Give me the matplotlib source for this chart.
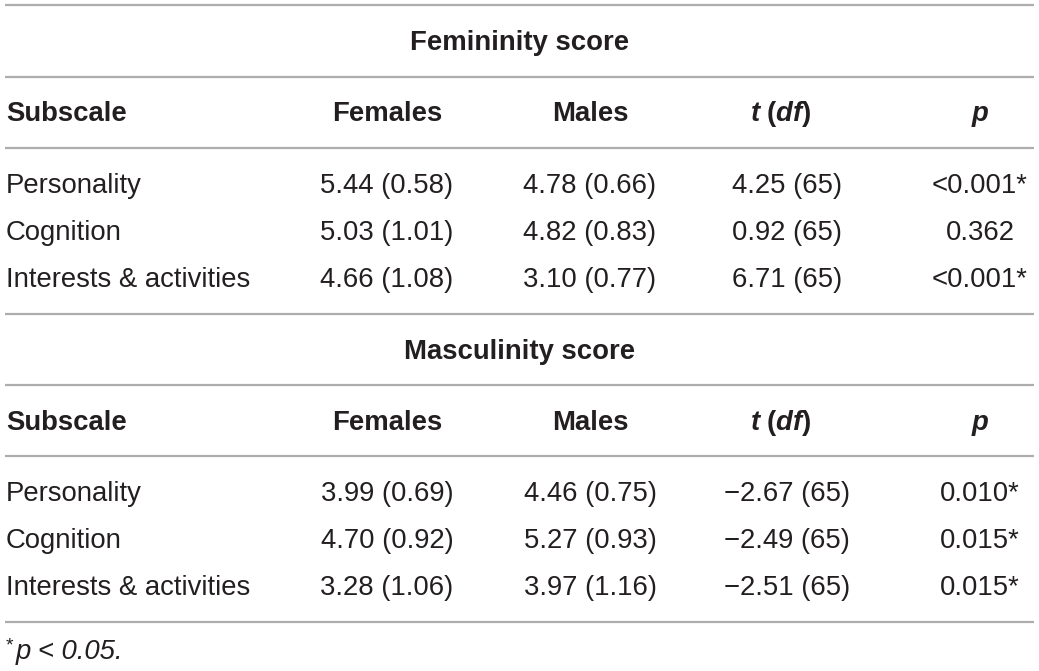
import matplotlib
matplotlib.use("Agg")
import matplotlib.pyplot as plt

plt.rcParams['font.family'] = ['Liberation Sans', 'DejaVu Sans']
plt.rcParams['mathtext.fontset'] = 'custom'
plt.rcParams['mathtext.it'] = 'Liberation Sans:italic:bold'
plt.rcParams['mathtext.rm'] = 'Liberation Sans:bold'
plt.rcParams['mathtext.bf'] = 'Liberation Sans:bold'

# ---- data ----
subscales = ["Personality", "Cognition", "Interests & activities"]
columns = ["Subscale", "Females", "Males", "t (df)", "p"]
sections = ["Femininity score", "Masculinity score"]

fem_female_mean = [5.44, 5.03, 4.66]
fem_female_sd = [0.58, 1.01, 1.08]
fem_male_mean = [4.78, 4.82, 3.10]
fem_male_sd = [0.66, 0.83, 0.77]
fem_t = [4.25, 0.92, 6.71]
fem_df = [65, 65, 65]
fem_p = ["<0.001*", "0.362", "<0.001*"]

mas_female_mean = [3.99, 4.70, 3.28]
mas_female_sd = [0.69, 0.92, 1.06]
mas_male_mean = [4.46, 5.27, 3.97]
mas_male_sd = [0.75, 0.93, 1.16]
mas_t = [-2.67, -2.49, -2.51]
mas_df = [65, 65, 65]
mas_p = ["0.010*", "0.015*", "0.015*"]

footnote = "p < 0.05."

# ---- drawing ----
W, H = 1039, 671
fig = plt.figure(figsize=(W / 100, H / 100), dpi=100)
ax = fig.add_axes([0, 0, 1, 1])
ax.set_xlim(0, W)
ax.set_ylim(H, 0)
ax.axis("off")

FS = 19.8
LINE_C = "#adadad"
TXT_C = "#231f20"
x_left, x_right = 5, 1034
col_x = [6, 387, 590, 787, 980]
DY = 2


def fmt_num(v):
    s = f"{abs(v):.2f}"
    return ("\u2212" + s) if v < 0 else s


def hline(y):
    ax.hlines(y, x_left, x_right, color=LINE_C, lw=1.6)


def header_row(y):
    y = y + DY
    ax.text(col_x[0], y, columns[0], fontsize=FS, fontweight="bold", va="center", ha="left", color=TXT_C)
    ax.text(col_x[1], y, columns[1], fontsize=FS, fontweight="bold", va="center", ha="center", color=TXT_C)
    ax.text(col_x[2], y, columns[2], fontsize=FS, fontweight="bold", va="center", ha="center", color=TXT_C)
    ax.text(col_x[3] - 6, y, r"$t$ ($df$)", fontsize=FS, fontweight="bold", va="center", ha="center", color=TXT_C)
    ax.text(col_x[4], y, columns[4], fontsize=FS, fontweight="bold", fontstyle="italic", va="center", ha="center", color=TXT_C)


def data_rows(ys, fm, fs, mm, ms, tv, dfv, pv):
    for i, y in enumerate(ys):
        y = y + DY
        ax.text(col_x[0], y, subscales[i], fontsize=FS, va="center", ha="left", color=TXT_C)
        ax.text(col_x[1], y, f"{fm[i]:.2f} ({fs[i]:.2f})", fontsize=FS, va="center", ha="center", color=TXT_C)
        ax.text(col_x[2], y, f"{mm[i]:.2f} ({ms[i]:.2f})", fontsize=FS, va="center", ha="center", color=TXT_C)
        ax.text(col_x[3], y, f"{fmt_num(tv[i])} ({dfv[i]})", fontsize=FS, va="center", ha="center", color=TXT_C)
        ax.text(col_x[4], y, pv[i], fontsize=FS, va="center", ha="center", color=TXT_C)


# Femininity block
hline(5)
ax.text(W / 2, 41 + DY, sections[0], fontsize=FS, fontweight="bold", va="center", ha="center", color=TXT_C)
hline(77)
header_row(112)
hline(148)
data_rows([184, 231, 278], fem_female_mean, fem_female_sd, fem_male_mean, fem_male_sd, fem_t, fem_df, fem_p)
hline(314)

# Masculinity block
ax.text(W / 2, 350 + DY, sections[1], fontsize=FS, fontweight="bold", va="center", ha="center", color=TXT_C)
hline(385)
header_row(421)
hline(456)
data_rows([492, 539, 586], mas_female_mean, mas_female_sd, mas_male_mean, mas_male_sd, mas_t, mas_df, mas_p)
hline(622)

# Footnote
ax.text(6, 646, "*", fontsize=14, va="center", ha="left", color=TXT_C)
ax.text(16, 652, footnote, fontsize=FS, fontstyle="italic", va="center", ha="left", color=TXT_C)

fig.savefig("out.png", dpi=100, facecolor="white")
